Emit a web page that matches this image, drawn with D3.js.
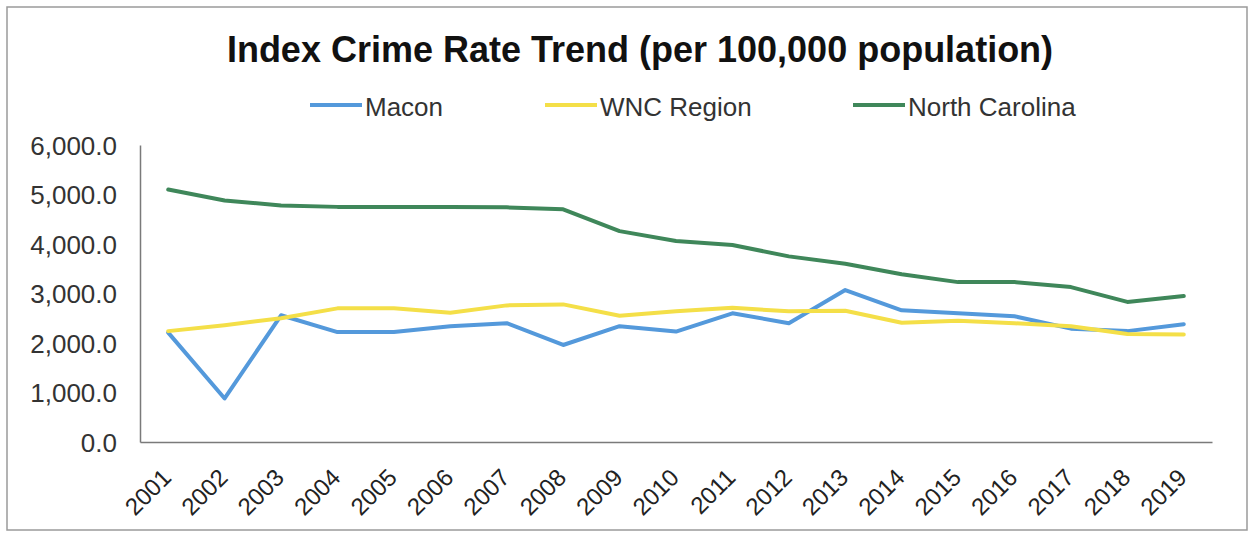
<!DOCTYPE html>
<html><head><meta charset="utf-8">
<script src="https://cdn.jsdelivr.net/npm/d3@7"></script>
<style>body{margin:0;background:#fff;} svg{display:block;}</style>
</head><body>
<svg id="c" width="1249" height="533"></svg>
<script>
const years = ["2001","2002","2003","2004","2005","2006","2007","2008","2009","2010","2011","2012","2013","2014","2015","2016","2017","2018","2019"];
const macon = [2210, 880, 2560, 2220, 2220, 2340, 2400, 1960, 2340, 2230, 2600, 2400, 3070, 2660, 2600, 2540, 2290, 2240, 2380];
const wnc = [2240, 2360, 2500, 2700, 2700, 2610, 2760, 2780, 2550, 2640, 2710, 2640, 2650, 2410, 2450, 2400, 2340, 2180, 2170];
const nc = [5100, 4880, 4780, 4750, 4750, 4750, 4740, 4700, 4260, 4060, 3980, 3750, 3600, 3390, 3230, 3230, 3130, 2830, 2950];
const seriesNames = ["Macon", "WNC Region", "North Carolina"];
const yTicks = [0, 1000, 2000, 3000, 4000, 5000, 6000];
const colors = ["#5499db", "#f4df48", "#3f875a"];

const svg = d3.select("#c");
const font = "'Liberation Sans', Arial, sans-serif";
svg.append("rect").attr("x", 7).attr("y", 7).attr("width", 1240).attr("height", 523)
  .attr("fill", "#fff").attr("stroke", "#9a9a9a").attr("stroke-width", 1.5);

const L = 140, R = 1212, T = 145, B = 442;
const x = d3.scalePoint().domain(years).range([L, R]).padding(0.5);
const y = d3.scaleLinear().domain([0, 6000]).range([B, T]);

svg.append("text").attr("x", 640).attr("y", 62).attr("text-anchor", "middle")
  .attr("font-family", font).attr("font-weight", "bold").attr("font-size", 36)
  .attr("fill", "#111").text("Index Crime Rate Trend (per 100,000 population)");

// legend
const legX = [310, 545, 853];
seriesNames.forEach((n, i) => {
  const g = svg.append("g").attr("transform", `translate(${legX[i]},105)`);
  g.append("line").attr("x1", 0).attr("x2", 52).attr("y1", 0).attr("y2", 0)
    .attr("stroke", colors[i]).attr("stroke-width", 4);
  g.append("text").attr("x", 55).attr("y", 11).attr("font-family", font).attr("font-size", 26)
    .attr("fill", "#333").text(n);
});

// y axis
const yAxis = d3.axisLeft(y).tickValues(yTicks).tickSize(0).tickPadding(23)
  .tickFormat(d => d3.format(",.1f")(d));
const gy = svg.append("g").attr("transform", `translate(${L},0)`).call(yAxis);
gy.select(".domain").attr("stroke", "#7a7a7a").attr("stroke-width", 1.5);
gy.selectAll("text").attr("font-family", font).attr("font-size", 26).attr("fill", "#333")
  .attr("dy", "0.35em");

// x axis
const xAxis = d3.axisBottom(x).tickSize(0).tickPadding(0);
const gx = svg.append("g").attr("transform", `translate(0,${B})`).call(xAxis);
gx.select(".domain").attr("stroke", "#7a7a7a").attr("stroke-width", 1.5);
gx.selectAll("text").attr("font-family", font).attr("font-size", 24).attr("fill", "#222")
  .attr("text-anchor", "end").attr("dy", 0).attr("y", 0)
  .attr("transform", "translate(4,37) rotate(-45)");

const line = d3.line().x((d, i) => x(years[i])).y(d => y(d));
[macon, wnc, nc].forEach((s, i) => {
  svg.append("path").datum(s).attr("d", line).attr("fill", "none")
    .attr("stroke", colors[i]).attr("stroke-width", 4).attr("stroke-linejoin", "round").attr("stroke-linecap", "round");
});
</script>
</body></html>
